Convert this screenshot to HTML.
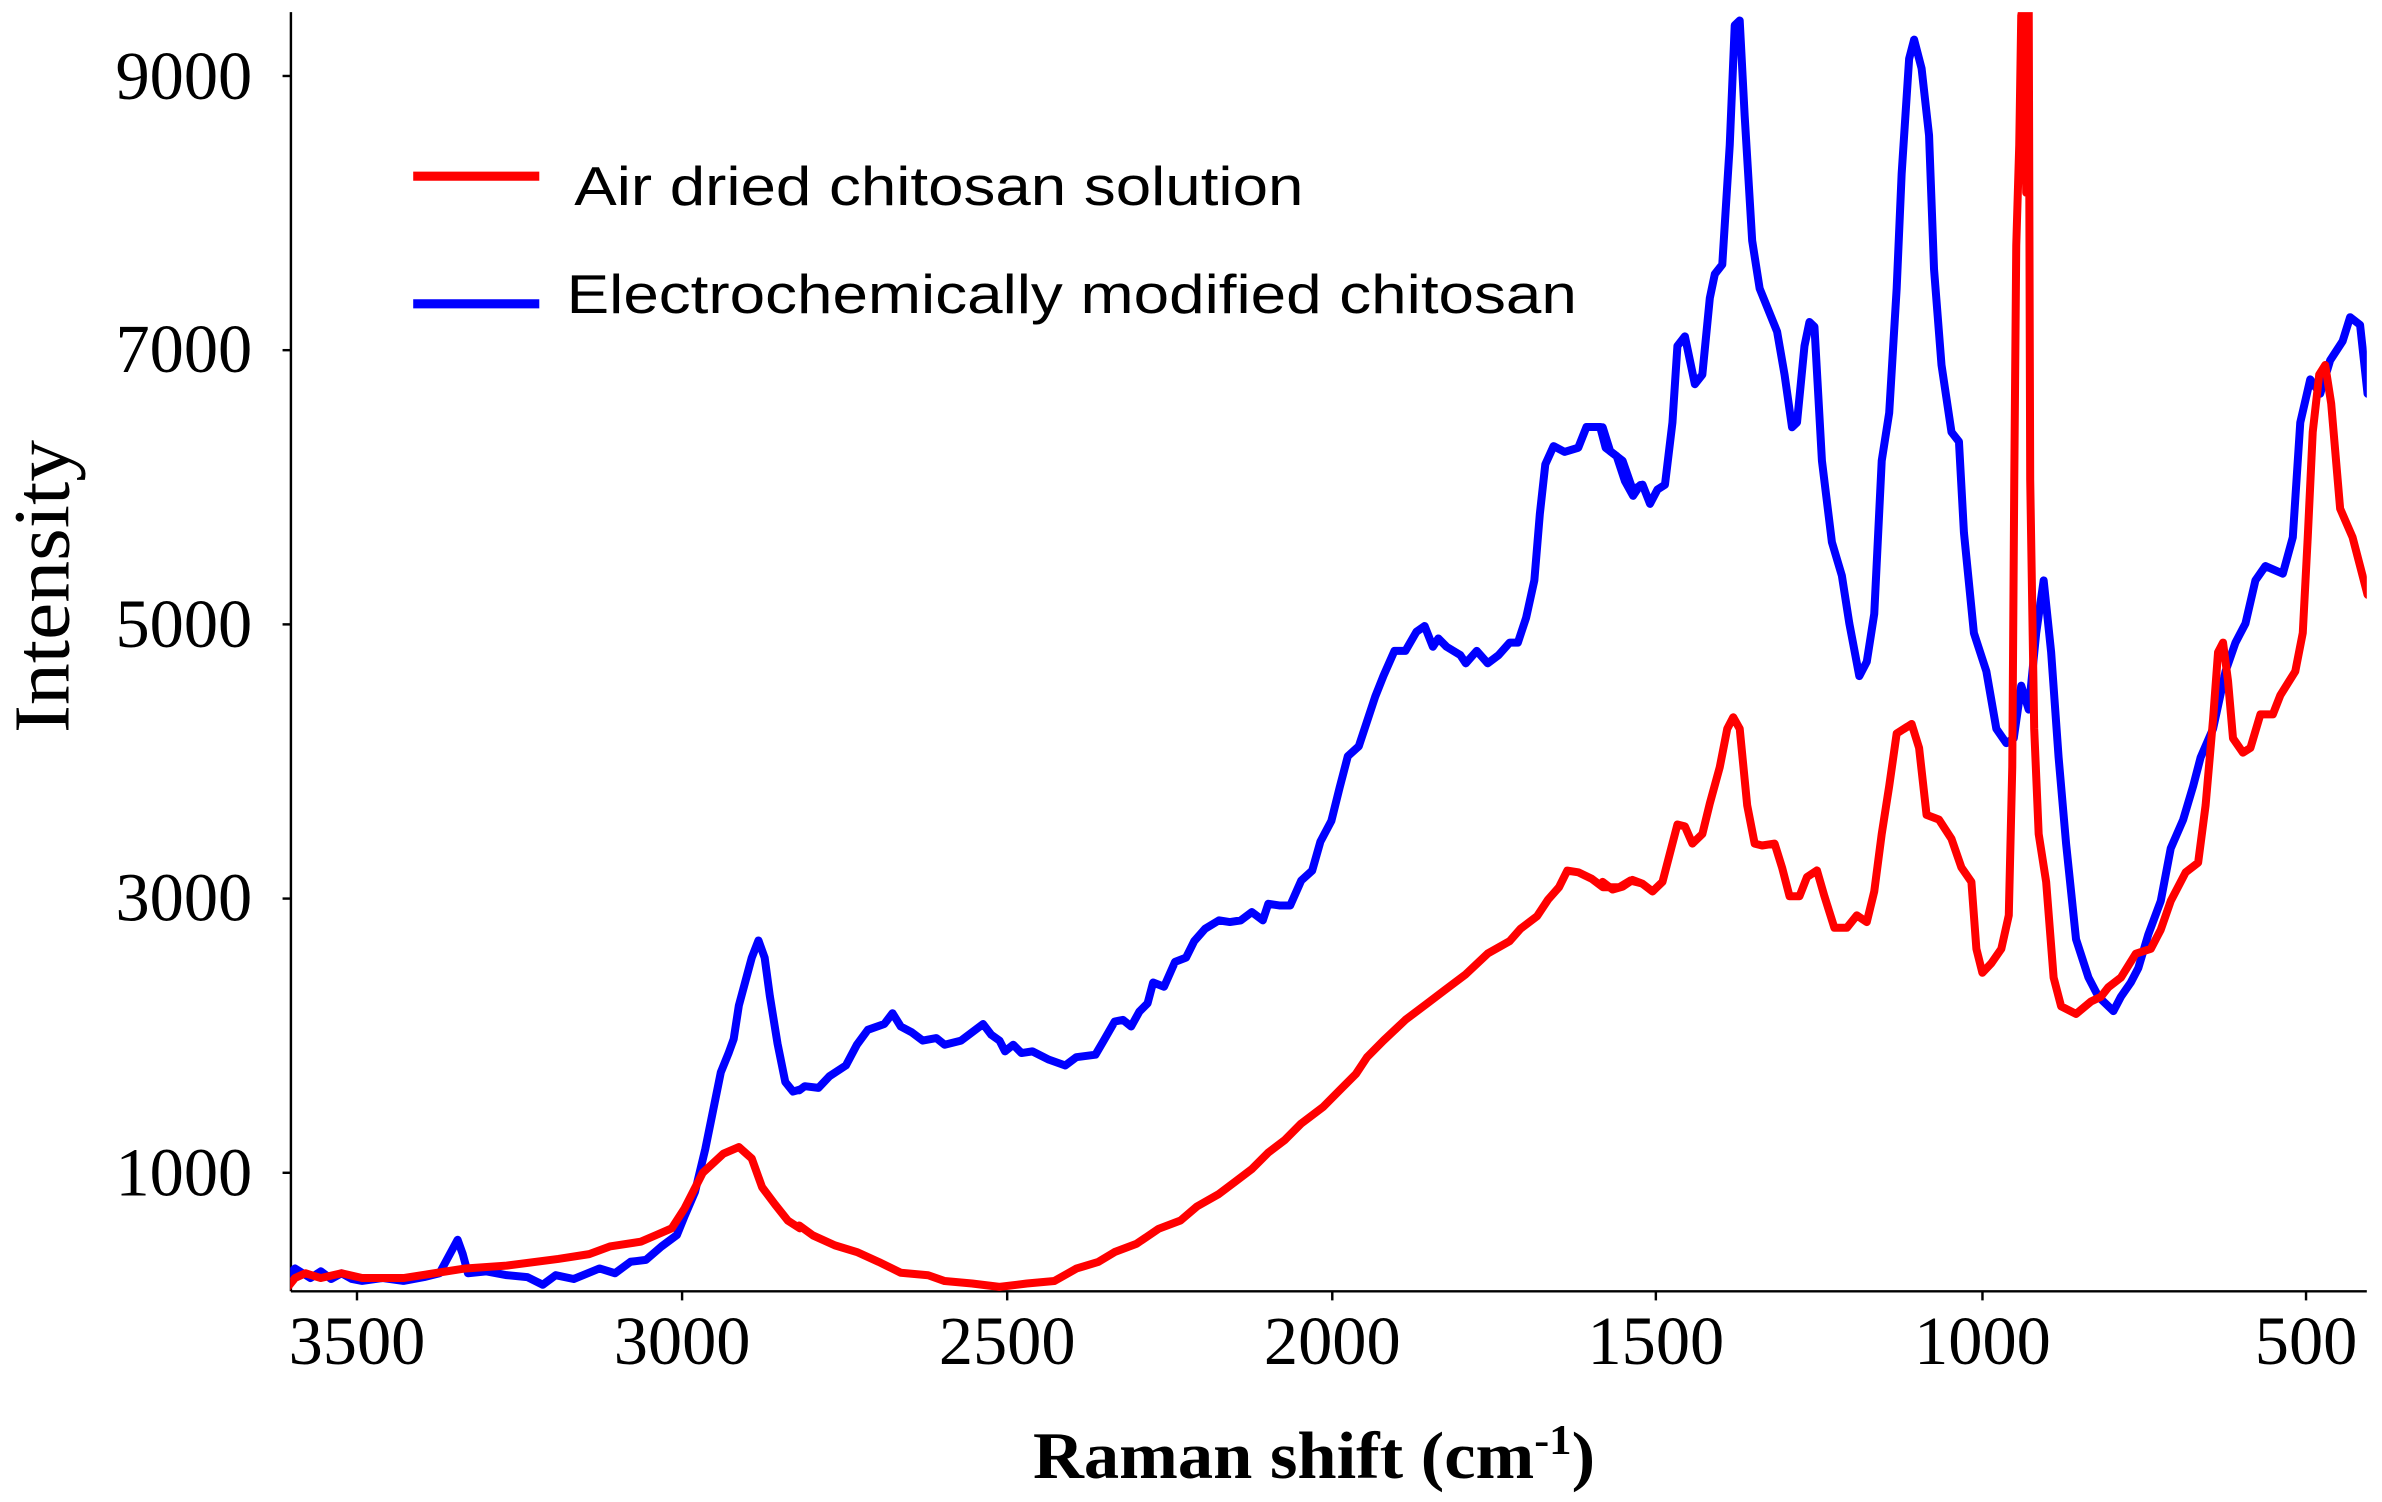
<!DOCTYPE html>
<html><head><meta charset="utf-8"><style>html,body{margin:0;padding:0;background:#fff}svg{display:block}</style></head>
<body>
<svg width="2382" height="1502" viewBox="0 0 1568 988.7" xmlns="http://www.w3.org/2000/svg">
<defs><clipPath id="pc"><rect x="191" y="8" width="1367" height="842"/></clipPath></defs>
<rect width="1568" height="989" fill="#fff"/>
<g stroke="#000" stroke-width="1.6" fill="none">
<line x1="191.5" y1="8" x2="191.5" y2="850"/>
<line x1="191.5" y1="850" x2="1558" y2="850"/>
<line x1="186" y1="50" x2="191.5" y2="50"/>
<line x1="186" y1="230.5" x2="191.5" y2="230.5"/>
<line x1="186" y1="411" x2="191.5" y2="411"/>
<line x1="186" y1="591.5" x2="191.5" y2="591.5"/>
<line x1="186" y1="772" x2="191.5" y2="772"/>
<line x1="235" y1="850" x2="235" y2="856"/>
<line x1="449" y1="850" x2="449" y2="856"/>
<line x1="663" y1="850" x2="663" y2="856"/>
<line x1="877" y1="850" x2="877" y2="856"/>
<line x1="1090" y1="850" x2="1090" y2="856"/>
<line x1="1305" y1="850" x2="1305" y2="856"/>
<line x1="1518" y1="850" x2="1518" y2="856"/>
</g>
<g font-family="Liberation Serif, serif" font-size="45" fill="#000" text-anchor="end">
<text x="166" y="65">9000</text>
<text x="166" y="245">7000</text>
<text x="166" y="426">5000</text>
<text x="166" y="606">3000</text>
<text x="166" y="787">1000</text>
</g>
<g font-family="Liberation Serif, serif" font-size="45" fill="#000" text-anchor="middle">
<text x="235" y="898">3500</text>
<text x="449" y="898">3000</text>
<text x="663" y="898">2500</text>
<text x="877" y="898">2000</text>
<text x="1090" y="898">1500</text>
<text x="1305" y="898">1000</text>
<text x="1518" y="898">500</text>
</g>
<text transform="translate(45,386) rotate(-90)" font-family="Liberation Serif, serif" font-size="52" text-anchor="middle" textLength="193" lengthAdjust="spacingAndGlyphs">Intensity</text>
<text x="680" y="973" font-family="Liberation Serif, serif" font-weight="bold" font-size="44" textLength="370" lengthAdjust="spacingAndGlyphs">Raman shift (cm<tspan font-size="28" dy="-16">-1</tspan><tspan dy="16">)</tspan></text>
<line x1="272" y1="116" x2="355" y2="116" stroke="#f00" stroke-width="6"/>
<line x1="272" y1="200" x2="355" y2="200" stroke="#00f" stroke-width="6"/>
<g font-family="Liberation Sans, sans-serif" font-size="36" fill="#000">
<text x="378" y="135" textLength="480" lengthAdjust="spacingAndGlyphs">Air dried chitosan solution</text>
<text x="373" y="206" textLength="665" lengthAdjust="spacingAndGlyphs">Electrochemically modified chitosan</text>
</g>
<g clip-path="url(#pc)" fill="none" stroke-width="8" stroke-linejoin="round" stroke-linecap="round">
<g transform="matrix(0.3397 0 0 0.6295 -6.2 0.9)" stroke="#00f">
<polyline vector-effect="non-scaling-stroke" points="572,1335 590,1325 605,1330 620,1335 640,1328 660,1336 680,1330 700,1336 720,1338 760,1335 800,1338 840,1334 870,1330 885,1315 905,1295 915,1310 925,1330 960,1328 1000,1332 1040,1334 1070,1342 1095,1332 1130,1336 1180,1325 1210,1330 1240,1318 1270,1316 1300,1302 1330,1290 1345,1270 1365,1245 1385,1200 1400,1160 1415,1120 1430,1100 1440,1085 1450,1050 1465,1020 1475,1000 1488,982 1500,1000 1510,1040 1525,1090 1540,1130 1555,1140 1568,1138"/>
</g>
<g transform="matrix(0.3611 0 0 0.5458 513.5 0)" stroke="#00f">
<polyline vector-effect="non-scaling-stroke" points="35,1315 45,1310 70,1312 90,1298 120,1285 140,1260 160,1242 190,1235 205,1222 220,1238 240,1245 260,1255 285,1252 300,1260 330,1255 350,1245 370,1235 385,1248 400,1255 410,1268 425,1260 440,1270 460,1268 490,1278 520,1285 540,1275 575,1272 590,1255 610,1232 625,1230 640,1238 655,1220 670,1210 680,1185 700,1190 720,1160 740,1155 755,1135 775,1120 800,1110 820,1112 840,1110 860,1100 880,1110 890,1090 910,1092 930,1092 950,1062 970,1050 985,1015 1005,990 1020,950 1035,912 1055,900 1070,870 1085,840 1100,815 1120,785 1140,785 1160,762 1175,755 1190,780 1200,770 1215,780 1240,790 1250,800 1270,785 1290,800 1310,790 1330,775 1345,775 1360,745 1375,700 1385,620 1395,560 1410,538 1430,545 1455,540 1470,515 1495,515 1505,540 1525,550 1540,580 1555,598 1568,585"/>
</g>
<g transform="matrix(0.328 0 0 0.63 1055 0.9)" stroke="#00f">
<polyline vector-effect="non-scaling-stroke" points="0,445 15,470 40,480 60,510 80,505 95,525 110,510 125,505 140,440 150,360 165,350 185,400 200,390 215,310 225,285 240,275 255,150 265,25 275,20 285,120 300,250 315,300 350,345 365,390 380,445 390,440 405,360 415,335 425,340 440,480 460,565 480,600 495,650 515,705 530,690 545,640 560,480 575,430 590,300 600,180 615,60 625,40 640,70 655,140 665,280 680,380 700,450 715,460 725,555 745,660 770,700 790,760 810,775 825,770 840,715 855,740 870,660 885,605 900,680 915,790 930,880 950,980 975,1020 995,1040 1025,1055 1040,1040 1060,1025 1075,1010 1095,975 1120,940 1140,885 1165,855 1185,820 1200,790 1225,760 1250,700 1270,670 1290,650 1310,605 1330,590 1365,598 1385,560 1400,440 1420,395 1440,410 1460,375 1485,355 1500,330 1520,338 1535,410"/>
</g>
<g transform="matrix(0.3397 0 0 0.6295 -6.2 0.9)" stroke="#f00">
<polyline vector-effect="non-scaling-stroke" points="575,1345 590,1335 610,1330 640,1335 680,1330 720,1335 800,1335 860,1330 920,1325 1000,1322 1100,1315 1160,1310 1200,1302 1260,1297 1290,1290 1320,1283 1345,1262 1380,1225 1420,1205 1450,1198 1475,1210 1495,1240 1520,1258 1545,1275 1568,1283"/>
</g>
<g transform="matrix(0.3611 0 0 0.5458 513.5 0)" stroke="#f00">
<polyline vector-effect="non-scaling-stroke" points="35,1478 60,1490 100,1502 140,1510 180,1522 220,1535 270,1538 300,1545 350,1548 400,1552 450,1548 500,1545 540,1530 580,1522 610,1510 650,1500 690,1482 730,1472 760,1455 800,1440 830,1425 860,1410 890,1390 920,1375 950,1355 990,1335 1020,1315 1050,1295 1070,1275 1100,1255 1140,1230 1180,1210 1210,1195 1250,1175 1290,1150 1330,1135 1350,1120 1380,1105 1400,1085 1420,1070 1435,1050 1455,1052 1480,1060 1500,1070 1530,1070 1550,1062 1568,1065"/>
</g>
<g transform="matrix(0.328 0 0 0.63 1055 0.9)" stroke="#f00">
<polyline vector-effect="non-scaling-stroke" points="0,920 20,928 40,925 60,918 80,922 100,930 120,920 135,890 150,860 165,862 180,880 200,870 215,838 235,800 250,760 262,748 275,760 290,840 305,880 320,882 345,880 360,905 375,935 395,935 410,915 430,908 445,935 465,968 490,968 510,955 530,962 545,930 560,870 575,820 590,765 620,755 635,780 650,850 675,855 700,875 720,905 740,920 750,990 762,1015 780,1005 800,990 815,955 822,800 826,500 830,255 836,150 840,15 845,0 850,200 855,0 858,500 866,760 875,870 890,920 905,1020 920,1050 950,1058 980,1045 1000,1040 1015,1030 1040,1020 1070,995 1100,990 1120,970 1140,940 1170,910 1195,900 1210,840 1225,750 1235,680 1245,670 1255,710 1265,770 1285,785 1300,780 1320,745 1345,745 1360,725 1390,700 1405,660 1415,560 1425,450 1438,390 1450,380 1462,420 1480,530 1505,560 1520,590 1535,620"/>
</g>
</g>
</svg>
</body></html>
